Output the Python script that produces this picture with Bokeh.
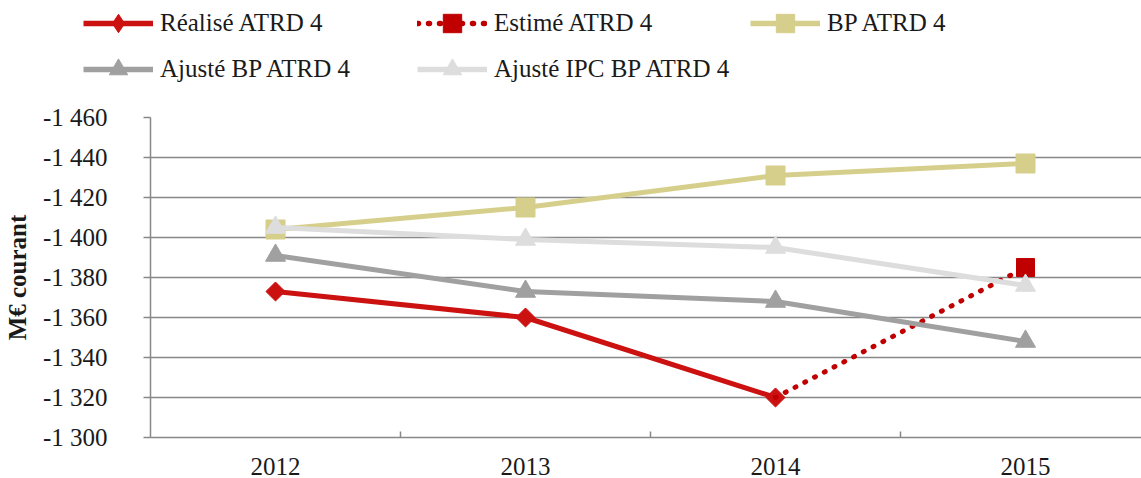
import numpy as np
from bokeh.plotting import figure
from bokeh.layouts import column
from bokeh.models import Legend, LegendItem, FixedTicker, Range1d
from bokeh.embed import file_html
from bokeh.resources import INLINE

# ---------------- data ----------------
years = ["2012", "2013", "2014", "2015"]
x_pos = [0, 1, 2, 3]

realise = [-1373, -1360, -1320]          # 2012-2014
estime_x = [2, 3]
estime = [-1320, -1385]                  # 2014-2015 (estimate)
bp = [-1404, -1415, -1431, -1437]
ajuste_bp = [-1391, -1373, -1368, -1348]
ajuste_ipc = [-1405, -1399, -1395, -1376]

y_ticks = [-1460, -1440, -1420, -1400, -1380, -1360, -1340, -1320, -1300]
y_tick_labels = ["-1 460", "-1 440", "-1 420", "-1 400", "-1 380",
                 "-1 360", "-1 340", "-1 320", "-1 300"]

series_names = ["Réalisé ATRD 4", "Estimé ATRD 4", "BP ATRD 4",
                "Ajusté BP ATRD 4", "Ajusté IPC BP ATRD 4"]

FONT = "Liberation Serif"
TXT = "#1a1a1a"
GRID = "#888888"

# styles per series: (color, dash, marker, size, angle, legend marker)
styles = [
    ("#CC1111", "solid", "square", 13.5, np.pi / 4, "diamond"),
    ("#C00000", "1 10", "square", 18, 0.0, "square"),
    ("#D6CF8C", "solid", "square", 19, 0.0, "square"),
    ("#A0A0A0", "solid", "triangle", 20, 0.0, "triangle"),
    ("#DDDDDD", "solid", "triangle", 20, 0.0, "triangle"),
]

# ---------------- main chart ----------------
p = figure(width=1141, height=383, output_backend="svg", toolbar_location=None,
           x_range=Range1d(-0.5, 3.464), y_range=Range1d(-1300, -1460),
           min_border_left=150, min_border_right=0, min_border_top=22,
           min_border_bottom=41)
p.frame_align = False
p.outline_line_color = None
p.background_fill_color = "white"
p.border_fill_color = "white"

series_x = [x_pos[:3], estime_x, x_pos, x_pos, x_pos]
series_y = [realise, estime, bp, ajuste_bp, ajuste_ipc]
marker_x = [x_pos[:3], estime_x[1:], x_pos, x_pos, x_pos]
marker_y = [realise, estime[1:], bp, ajuste_bp, ajuste_ipc]

for xs, ys, mx, my, (c, d, m, s, a, lm) in zip(series_x, series_y, marker_x, marker_y, styles):
    p.line(xs, ys, line_color=c, line_width=5, line_dash=d,
           line_cap="round" if d != "solid" else "butt")
    p.scatter(mx, my, marker=m, size=s, angle=a, fill_color=c, line_color=c)

# axes
p.xaxis.ticker = FixedTicker(ticks=x_pos, minor_ticks=[0.5, 1.5, 2.5])
p.xaxis.major_label_overrides = {x: y for x, y in zip(x_pos, years)}
p.xaxis.major_tick_out = 0
p.xaxis.major_tick_in = 0
p.xaxis.minor_tick_in = 6
p.xaxis.minor_tick_out = 0
p.xaxis.minor_tick_line_color = GRID
p.xaxis.minor_tick_line_width = 1.5
p.xaxis.axis_line_color = GRID
p.xaxis.axis_line_width = 1.5
p.xaxis.major_label_standoff = 20
p.xaxis.major_label_text_font = FONT
p.xaxis.major_label_text_font_size = "25px"
p.xaxis.major_label_text_color = TXT

p.yaxis.ticker = FixedTicker(ticks=y_ticks, minor_ticks=[])
p.yaxis.major_label_overrides = {t: l for t, l in zip(y_ticks, y_tick_labels)}
p.yaxis.major_tick_out = 7
p.yaxis.major_tick_in = 0
p.yaxis.major_tick_line_color = GRID
p.yaxis.major_tick_line_width = 1.5
p.yaxis.axis_line_color = GRID
p.yaxis.axis_line_width = 1.5
p.yaxis.major_label_standoff = 36
p.yaxis.major_label_text_font = FONT
p.yaxis.major_label_text_font_size = "25px"
p.yaxis.major_label_text_color = TXT
p.yaxis.axis_label = "M€ courant"
p.yaxis.axis_label_text_font = FONT
p.yaxis.axis_label_text_font_style = "bold"
p.yaxis.axis_label_text_font_size = "25px"
p.yaxis.axis_label_text_color = TXT
p.yaxis.axis_label_standoff = 9

p.xgrid.visible = False
p.ygrid.ticker = FixedTicker(ticks=y_ticks)
p.ygrid.grid_line_color = GRID
p.ygrid.grid_line_width = 1.5

# ---------------- legend strip ----------------
lg = figure(width=1141, height=95, output_backend="svg", toolbar_location=None,
            x_range=Range1d(0, 1), y_range=Range1d(0, 1),
            x_axis_type=None, y_axis_type=None,
            min_border_left=0, min_border_right=0, min_border_top=0,
            min_border_bottom=0)
lg.frame_align = False
lg.outline_line_color = None
lg.xgrid.visible = False
lg.ygrid.visible = False

# legend slot positions (screen px, bottom-left of each entry in the strip)
slot_x = [83, 417, 750, 83, 417]
slot_y = [49, 49, 49, 3, 3]

for name, (c, d, m, s, a, lm), sx, sy in zip(series_names, styles, slot_x, slot_y):
    # renderers kept outside the strip's visible range: only used by the legend
    rl = lg.line([2, 3], [2, 3], line_color=c, line_width=5.5, line_dash=d,
                 line_cap="round" if d != "solid" else "butt")
    rm = lg.scatter([2], [2], marker=lm, size=s, fill_color=c, line_color=c)
    leg = Legend(items=[LegendItem(label=name, renderers=[rl, rm])],
                 location=(sx, sy), padding=0, margin=0, spacing=0,
                 glyph_width=70, glyph_height=46, label_height=30,
                 label_standoff=7, border_line_color=None,
                 background_fill_alpha=0, label_text_font=FONT,
                 label_text_font_size="25px", label_text_color=TXT,
                 label_text_baseline="middle")
    lg.add_layout(leg, "center")

layout = column(lg, p, spacing=0)
open("out.html", "w").write(file_html(layout, INLINE))
